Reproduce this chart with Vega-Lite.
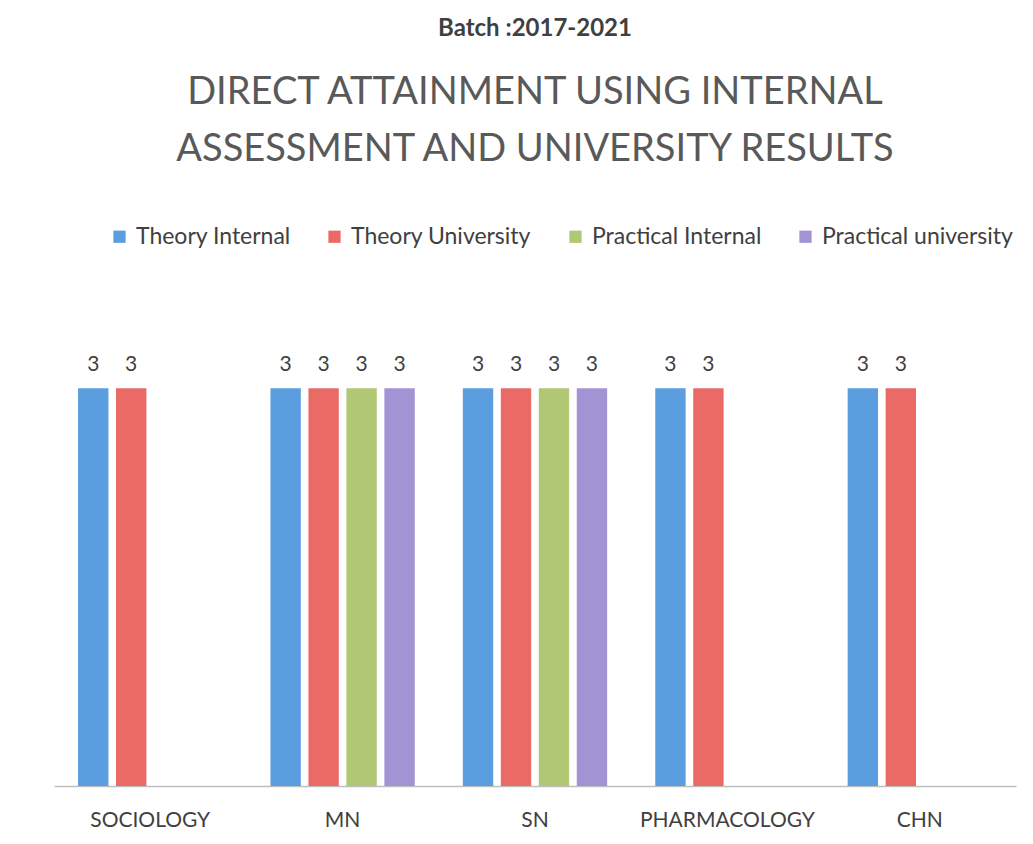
{
  "$schema": "https://vega.github.io/schema/vega-lite/v6.json",
  "autosize": {"type": "none"},
  "width": 962,
  "height": 464,
  "padding": {"left": 54, "top": 322, "right": 17, "bottom": 58},
  "background": "white",
  "title": {
    "text": "Batch :2017-2021",
    "subtitle": ["DIRECT ATTAINMENT USING INTERNAL", "ASSESSMENT AND UNIVERSITY RESULTS"],
    "anchor": "middle",
    "font": "Lato",
    "fontSize": 24,
    "fontWeight": "bold",
    "color": "#404040",
    "subtitleFont": "Lato",
    "subtitleFontSize": 38,
    "subtitleColor": "#595959",
    "subtitleLineHeight": 57,
    "subtitlePadding": 33,
    "offset": 56
  },
  "data": {
    "values": [
      {"subject": "SOCIOLOGY", "series": "Theory Internal", "value": 3},
      {"subject": "SOCIOLOGY", "series": "Theory University", "value": 3},
      {"subject": "MN", "series": "Theory Internal", "value": 3},
      {"subject": "MN", "series": "Theory University", "value": 3},
      {"subject": "MN", "series": "Practical Internal", "value": 3},
      {"subject": "MN", "series": "Practical university", "value": 3},
      {"subject": "SN", "series": "Theory Internal", "value": 3},
      {"subject": "SN", "series": "Theory University", "value": 3},
      {"subject": "SN", "series": "Practical Internal", "value": 3},
      {"subject": "SN", "series": "Practical university", "value": 3},
      {"subject": "PHARMACOLOGY", "series": "Theory Internal", "value": 3},
      {"subject": "PHARMACOLOGY", "series": "Theory University", "value": 3},
      {"subject": "CHN", "series": "Theory Internal", "value": 3},
      {"subject": "CHN", "series": "Theory University", "value": 3}
    ]
  },
  "encoding": {
    "x": {
      "field": "subject",
      "type": "nominal",
      "sort": ["SOCIOLOGY", "MN", "SN", "PHARMACOLOGY", "CHN"],
      "scale": {"paddingInner": 0.25, "paddingOuter": 0.125},
      "axis": {
        "title": null,
        "labelAngle": 0,
        "labelFont": "Lato",
        "labelFontSize": 21,
        "labelColor": "#404040",
        "labelPadding": 23,
        "ticks": false,
        "domainColor": "#bfbfbf",
        "domainWidth": 1.5
      }
    },
    "xOffset": {
      "field": "series",
      "type": "nominal",
      "sort": ["Theory Internal", "Theory University", "Practical Internal", "Practical university"],
      "scale": {
        "domain": ["Theory Internal", "Theory University", "Practical Internal", "Practical university"],
        "paddingInner": 0.2,
        "paddingOuter": 0
      }
    },
    "y": {
      "field": "value",
      "type": "quantitative",
      "scale": {"domain": [0, 3.5]},
      "axis": null
    }
  },
  "layer": [
    {
      "mark": {"type": "bar"},
      "encoding": {
        "color": {
          "field": "series",
          "type": "nominal",
          "scale": {
            "domain": ["Theory Internal", "Theory University", "Practical Internal", "Practical university"],
            "range": ["#5a9ee0", "#ea6a66", "#b0c774", "#a193d4"]
          },
          "legend": {
            "title": null,
            "orient": "none",
            "direction": "horizontal",
            "legendX": 54,
            "legendY": -97,
            "symbolType": "square",
            "symbolSize": 150,
            "symbolStrokeWidth": 0,
            "labelFont": "Lato",
            "labelFontSize": 23,
            "labelLimit": 400,
            "labelColor": "#404040",
            "labelOffset": 5,
            "columnPadding": 32
          }
        }
      }
    },
    {
      "mark": {"type": "text", "baseline": "bottom", "dy": -13, "font": "Lato", "fontSize": 21, "color": "#404040"},
      "encoding": {"text": {"field": "value", "type": "quantitative"}}
    }
  ],
  "config": {"view": {"stroke": null}}
}
